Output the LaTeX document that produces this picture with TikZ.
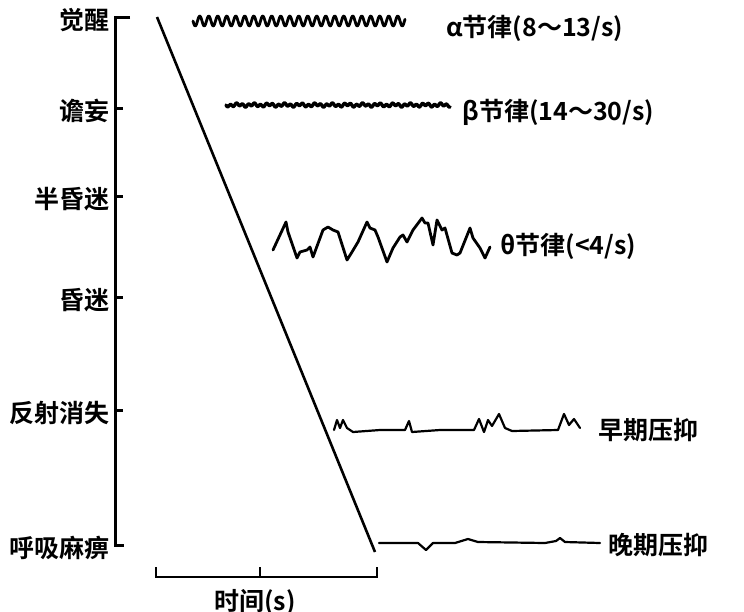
\documentclass[tikz,border=0pt]{standalone}
\usepackage{fontspec}
\newfontfamily\cjk{Noto Sans CJK SC Bold}
\usetikzlibrary{calc}

\begin{document}
\begin{tikzpicture}[x=0.5pt,y=-0.5pt,
    lab/.style={font=\cjk\fontsize{12.5}{14}\selectfont,inner sep=1pt},
    wave/.style={line width=1.4pt,line join=round,line cap=round}]
    \useasboundingbox (0,0) rectangle (744,611);
    % stages on the left
    \coordinate (top) at (115,17);
    \coordinate (bot) at (115,545);
    \draw[line width=1.5pt](130,17)--(top)--(bot)--(124,545);
    \foreach \y/\n/\t in {17/s1/觉醒,108/s2/谵妄,196/s3/半昏迷,297/s4/昏迷,410/s5/反射消失,545/s6/呼吸麻痹}{
      \draw[line width=1.5pt](115,\y)--(123,\y);
      \node[lab,anchor=east](\n) at (112,\y+3){\t};
    }
    % falling line
    \coordinate (d0) at (157,17);
    \coordinate (d1) at (375,552);
    \draw[line width=1.3pt](d0)--(d1);
    % alpha
    \draw[wave]plot[domain=0:212,samples=300](\x+193,{21+5*sin(\x*40)});
    \node[lab,anchor=west](alpha) at (444,28){α节律(8～13/s)};
    % beta
    \draw[wave,line width=1.7pt]plot[domain=0:224,samples=400](\x+226,{105+1.3*sin(\x*60)+0.8*sin(\x*23)});
    \node[lab,anchor=west](beta) at (460,112){β节律(14～30/s)};
    % theta
    \draw[wave](273,250)--(286,222)--(288,232)--(297,258)--(300,252)--(307,250)--(310,247)--(313,257)
      --(323,230)--(328,227)--(333,230)--(338,232)--(347,260)--(352,252)--(358,242)--(367,222)--(370,228)
      --(375,230)--(378,237)--(387,262)--(393,248)--(400,237)--(403,235)--(407,242)--(413,230)--(422,218)
      --(425,223)--(428,223)--(433,245)--(437,220)--(442,230)--(445,228)--(452,253)--(457,255)--(460,253)
      --(470,228)--(473,238)--(480,248)--(485,258)--(490,247);
    \node[lab,anchor=west](theta) at (498,246){θ节律(<4/s)};
    % early suppression
    \draw[wave,line width=1.1pt](334,430)--(337,420)--(340,428)--(343,420)--(347,428)--(353,432)--(380,430)
      --(405,430)--(409,421)--(412,432)--(440,430)--(474,430)--(479,419)--(484,432)--(488,420)--(492,426)
      --(499,414)--(505,428)--(512,431)--(558,430)--(564,414)--(569,425)--(574,419)--(580,428);
    \node[lab,anchor=west](early) at (596,430){早期压抑};
    % late suppression
    \draw[wave,line width=1.1pt](379,543)--(418,543)--(426,550)--(433,543)--(455,543)--(468,539)--(478,542)
      --(545,543)--(556,541)--(560,538)--(565,542)--(600,543);
    \node[lab,anchor=west](late) at (606,545){晚期压抑};
    % time bar
    \coordinate (t0) at (156,577);
    \coordinate (t1) at (377,577);
    \draw[line width=1.3pt]($(t0)+(0,-10)$)--(t0)--(t1)--($(t1)+(0,-10)$);
    \draw[line width=1.3pt](260,577)--(260,567);
    \node[lab,anchor=north](time) at (255,587){时间(s)};
\end{tikzpicture}
\end{document}
